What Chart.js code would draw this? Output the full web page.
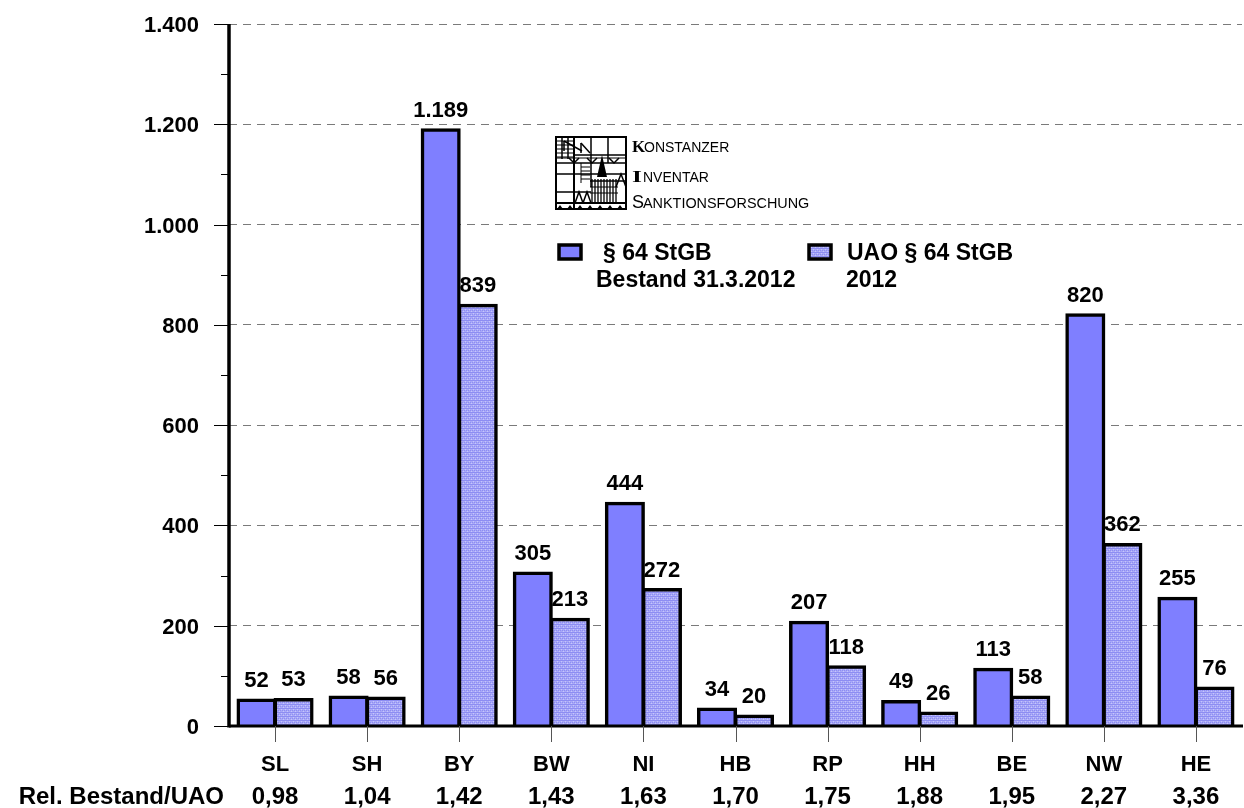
<!DOCTYPE html>
<html><head><meta charset="utf-8">
<style>html,body{margin:0;padding:0;background:#fff}#w{position:relative;width:1244px;height:808px}canvas{display:block}</style>
<script src="https://cdn.jsdelivr.net/npm/chart.js@4"></script></head>
<body><div id="w"><canvas id="c" width="1244" height="808"></canvas></div>
<script>
const categories=['SL','SH','BY','BW','NI','HB','RP','HH','BE','NW','HE'];
const ratios=['0,98','1,04','1,42','1,43','1,63','1,70','1,75','1,88','1,95','2,27','3,36'];
const bestand=[52,58,1189,305,444,34,207,49,113,820,255];
const uao=[53,56,839,213,272,20,118,26,58,362,76];
const yTicks=[0,200,400,600,800,1000,1200,1400];
const legendA=['§ 64 StGB','Bestand 31.3.2012'];
const legendB=['UAO § 64 StGB','2012'];
const rowLabel='Rel. Bestand/UAO';
const logoLines=['ONSTANZER','NVENTAR','ANKTIONSFORSCHUNG'];
const logoCaps=['K','I','S'];
const FONT='"Liberation Sans", Arial, sans-serif';
const BLUE='#7f7fff';
function pattern(){
  const p=document.createElement('canvas');p.width=4;p.height=4;
  const x=p.getContext('2d');x.fillStyle='#a9a9f8';x.fillRect(0,0,4,4);
  x.fillStyle='#8d8df2';x.fillRect(0,0,4,1);x.fillRect(0,2,1,1);x.fillRect(2,2,1,1);
  x.fillStyle='#c6c6fb';x.fillRect(1,1,1,1);x.fillRect(3,3,1,1);
  return x.createPattern(p,'repeat');
}
const fmt=v=>String(v).replace(/\B(?=(\d{3})+$)/g,'.');
const pat=pattern();
function logo(g){
  g.save();g.translate(556,137);g.strokeStyle='#000';g.lineWidth=1.5;g.fillStyle='#000';
  const L=(a,b,c,d,w)=>{g.lineWidth=w||1.5;g.beginPath();g.moveTo(a,b);g.lineTo(c,d);g.stroke();};
  g.lineWidth=2;g.strokeRect(0,0,70,72);
  L(18,0,18,72,2);L(35,0,35,50);L(52,0,52,26);L(6,0,6,22);L(12,0,12,22);
  [4,8,12,16,20].forEach(y=>L(0,y,18,y,1));
  L(0,26,70,26);L(0,37,70,37);L(18,18,70,18);L(0,21,70,21,1);
  L(0,55,35,55);L(0,66,70,66,2);
  L(8,4,26,14);L(8,4,8,14);L(25,16,25,6);L(25,6,34,16);
  [[13,21],[31,21],[53,21]].forEach(([x,y])=>{g.beginPath();g.moveTo(x,y);g.lineTo(x+5,y+5);g.lineTo(x+10,y);g.stroke();});
  [30,34,38,42].forEach(y=>L(25,y,34,y,1));L(25,26,25,46,1);
  g.beginPath();g.moveTo(46,18);g.lineTo(51,40);g.lineTo(41,40);g.closePath();g.fill();
  L(34,44,70,44);[36,39,42,45,48,51,54,57,60].forEach(x=>L(x,42,x,66,1.3));L(34,50,62,50,1);L(34,56,62,56,1);
  [[19,55],[27,55]].forEach(([x,y])=>{g.lineWidth=1.5;g.beginPath();g.moveTo(x,y+11);g.lineTo(x+4,y);g.lineTo(x+8,y+11);g.stroke();});
  g.beginPath();g.moveTo(60,50);g.lineTo(65,37);g.lineTo(70,50);g.stroke();
  [4,14,24,34,44,54,64].forEach(x=>{g.beginPath();g.moveTo(x-3,72);g.lineTo(x,68);g.lineTo(x+3,72);g.fill();});
  g.restore();
}
const overlay={id:'overlay',
 afterDatasetsDraw(c){
  const g=c.ctx,a=c.scales.x,y=c.scales.y;
  g.save();g.fillStyle='#000';g.textAlign='center';g.textBaseline='alphabetic';
  g.font='bold 22px '+FONT;
  c.data.datasets.forEach((d,i)=>{c.getDatasetMeta(i).data.forEach((b,j)=>{
    g.fillText(fmt(d.data[j]),b.x,b.y-13);
  });});
  g.strokeStyle='#000';g.lineWidth=3.5;g.beginPath();
  g.moveTo(a.left,y.top);g.lineTo(a.left,y.bottom+1.5);g.stroke();
  g.lineWidth=3;g.beginPath();g.moveTo(a.left,y.bottom);g.lineTo(a.right+1,y.bottom);g.stroke();
  g.lineWidth=1;g.strokeStyle='#000';g.beginPath();
  yTicks.forEach(v=>{const p=Math.round(y.getPixelForValue(v))+.5;g.moveTo(a.left-15,p);g.lineTo(a.left,p);
    if(v<1400){const q=Math.round(y.getPixelForValue(v+100))+.5;g.moveTo(a.left-8,q);g.lineTo(a.left,q);}});
  g.stroke();
  g.strokeStyle='#555';g.beginPath();
  categories.forEach((n,i)=>{const p=Math.round(a.getPixelForValue(i))+.5;g.moveTo(p,y.bottom);g.lineTo(p,y.bottom+16);});
  g.stroke();
  g.font='bold 22px '+FONT;
  categories.forEach((n,i)=>{g.fillText(n,a.getPixelForValue(i),771);});
  g.font='bold 24px '+FONT;
  categories.forEach((n,i)=>{g.fillText(ratios[i],a.getPixelForValue(i),804);});
  g.textAlign='right';g.fillText(rowLabel,224,804);
  function key(x,yy,f){g.fillStyle=f;g.fillRect(x,yy,22,14);g.strokeStyle='#000';g.lineWidth=3.5;g.strokeRect(x,yy,22,14);}
  key(559,245,BLUE);key(809,245,pat);
  g.fillStyle='#000';g.textAlign='left';g.font='bold 23px '+FONT;
  g.fillText(legendA[0],603,260);g.fillText(legendA[1],596,287);
  g.fillText(legendB[0],847,260);g.fillText(legendB[1],846,287);
  logo(g);
  g.fillStyle='#000';
  const rows=[[632,152],[632,182],[632,208]];
  logoCaps.forEach((k,i)=>{const x=rows[i][0],b=rows[i][1];
    if(i==1){g.save();g.translate(x,b);g.scale(1.5,1);g.font='bold 17px "Liberation Serif", serif';g.fillText(k,0,0);g.restore();}
    else{g.font=i==2?'18px '+FONT:'bold 17px "Liberation Serif", serif';g.fillText(k,x,b);}
    g.font=(i==2?'14.4px ':'14px ')+FONT;g.fillText(logoLines[i],i==0?644:(i==1?643:643),b);});
  g.restore();
 }};
const barBorder={top:3.5,left:3.5,right:3.5,bottom:0};
new Chart(document.getElementById('c'),{type:'bar',
 data:{labels:categories,datasets:[
  {label:legendA.join(' '),data:bestand,backgroundColor:BLUE,borderColor:'#000',borderWidth:barBorder,borderSkipped:false,inflateAmount:1.5},
  {label:legendB.join(' '),data:uao,backgroundColor:pat,borderColor:'#000',borderWidth:barBorder,borderSkipped:false,inflateAmount:1.5}]},
 plugins:[overlay],
 options:{responsive:false,animation:false,
  layout:{padding:{left:0,right:2,top:24,bottom:82}},
  datasets:{bar:{barPercentage:1,categoryPercentage:0.805}},
  plugins:{legend:{display:false},tooltip:{enabled:false}},
  scales:{
   x:{afterFit(s){s.height=0;},grid:{display:false},border:{display:false},ticks:{display:false}},
   y:{min:0,max:1400,afterFit(s){s.width=229;s.paddingTop=0;s.paddingBottom=0;},
     afterBuildTicks(s){s.ticks=yTicks.map(v=>({value:v}));
       if(!s.nudged){s.nudged=true;const orig=s.getLabelItems;
         s.getLabelItems=function(a){const fresh=!this._labelItems;const it=orig.call(this,a);
           if(fresh)it.forEach(i=>{i.textOffset+=2;});return it;};}},
     border:{display:false,dash:[8,6]},
     grid:{color:'#7a7a7a',lineWidth:1,drawTicks:false,tickLength:0},
     ticks:{padding:30,color:'#000',font:{family:FONT,size:22,weight:'bold'},callback:v=>fmt(v)}}
  }}});
</script></body></html>
